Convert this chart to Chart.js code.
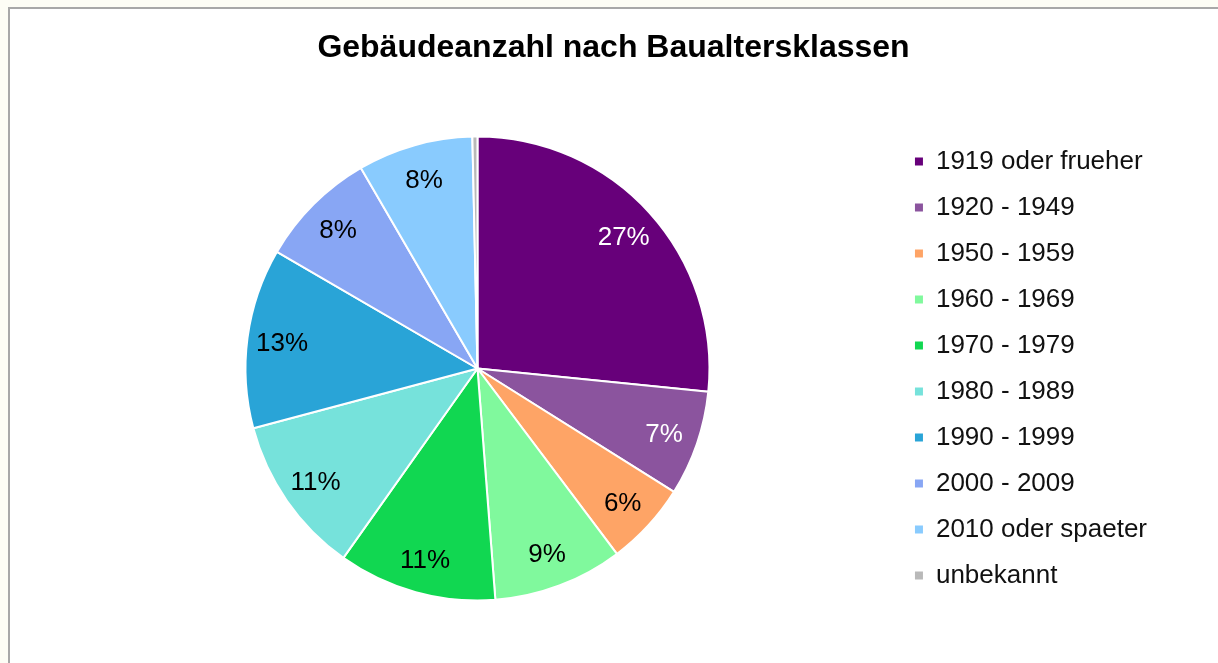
<!DOCTYPE html>
<html>
<head>
<meta charset="utf-8">
<script src="https://cdn.jsdelivr.net/npm/chart.js@4"></script>
<style>
  html, body { margin: 0; padding: 0; }
  body { width: 1218px; height: 663px; background: #fdfdf5; position: relative; overflow: hidden; }
  #frame { position: absolute; left: 8px; top: 7px; width: 1240px; height: 700px; background: #ffffff; border: 2px solid #a8a8a8; box-sizing: border-box; }
  #c { position: absolute; left: 0; top: 0; }
</style>
</head>
<body>
<div id="frame"></div>
<canvas id="c" width="1218" height="663"></canvas>
<script>
// ---- data ----
const title = 'Gebäudeanzahl nach Baualtersklassen';
const categories = ['1919 oder frueher', '1920 - 1949', '1950 - 1959', '1960 - 1969', '1970 - 1979',
                    '1980 - 1989', '1990 - 1999', '2000 - 2009', '2010 oder spaeter', 'unbekannt'];
const shares = [26.5, 7.3, 5.8, 9.0, 11.0, 11.0, 12.5, 8.2, 8.0, 0.35];

// ---- styles ----
const sliceColors = ['#67007a', '#8b549e', '#fea466', '#80f99d', '#11d751',
                     '#76e2db', '#29a4d7', '#88a6f4', '#89cbfe', '#b9b9b9'];
const labelColors = ['#ffffff', '#ffffff', '#000000', '#000000', '#000000',
                     '#000000', '#000000', '#000000', '#000000', '#000000'];
const FONT = '"Liberation Sans", Arial, sans-serif';

const pctLabels = {
  id: 'pctLabels',
  afterDatasetsDraw(chart) {
    const ctx = chart.ctx;
    const meta = chart.getDatasetMeta(0);
    const data = chart.data.datasets[0].data;
    const total = data.reduce((a, b) => a + b, 0);
    ctx.save();
    ctx.font = '26px ' + FONT;
    ctx.textAlign = 'center';
    ctx.textBaseline = 'middle';
    meta.data.forEach((arc, i) => {
      const pct = Math.round(data[i] / total * 100);
      if (pct < 1) return;
      const p = arc.getProps(['x', 'y', 'startAngle', 'endAngle', 'outerRadius'], true);
      const mid = (p.startAngle + p.endAngle) / 2;
      const r = p.outerRadius * 0.85;
      ctx.fillStyle = labelColors[i];
      ctx.fillText(pct + '%', p.x + Math.cos(mid) * r, p.y + Math.sin(mid) * r + 2);
    });
    ctx.restore();
  }
};

const widenLegend = {
  id: 'widenLegend',
  beforeInit(chart) {
    const lg = chart.legend;
    if (!lg) return;
    const fit = lg.fit;
    lg.fit = function () { fit.call(this); this.width += 10; };
  }
};

const baseGen = Chart.overrides.pie.plugins.legend.labels.generateLabels;

new Chart(document.getElementById('c'), {
  type: 'pie',
  data: {
    labels: categories,
    datasets: [{
      data: shares,
      backgroundColor: sliceColors,
      borderColor: '#ffffff',
      borderWidth: 2,
      radius: 232
    }]
  },
  options: {
    responsive: false,
    animation: false,
    devicePixelRatio: 1,
    layout: { padding: { left: 60, right: 51, top: 0, bottom: 26 } },
    plugins: {
      tooltip: { enabled: false },
      title: {
        display: true,
        text: title,
        color: '#000000',
        font: { family: FONT, size: 32, weight: 'bold', lineHeight: 1.2 },
        padding: { top: 28.8, bottom: 32.8 }
      },
      legend: {
        position: 'right',
        fullSize: false,
        labels: {
          color: '#111111',
          font: { family: FONT, size: 26 },
          boxWidth: 8,
          boxHeight: 8,
          padding: 20,
          generateLabels(chart) {
            return baseGen(chart).map(l => Object.assign(l, { lineWidth: 0, strokeStyle: 'transparent' }));
          }
        }
      }
    }
  },
  plugins: [pctLabels, widenLegend]
});
</script>
</body>
</html>
